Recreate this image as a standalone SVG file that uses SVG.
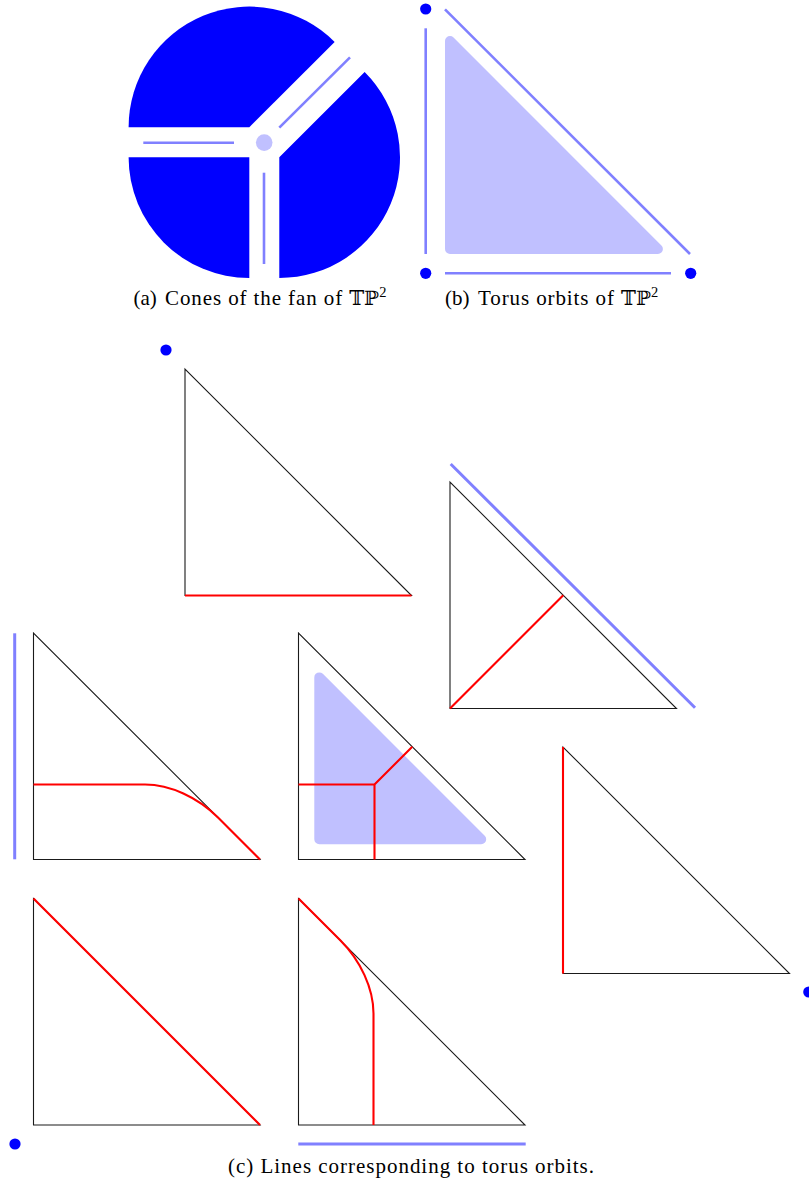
<svg xmlns="http://www.w3.org/2000/svg" width="809" height="1192" viewBox="0 0 809 1192">
<style>
.cone{fill:#0000ff;stroke:none}
.orb{stroke:#8080ff;stroke-width:2.6;fill:none;stroke-linecap:butt}
.orbc{stroke:#8080ff;stroke-width:3;fill:none}
.pt{fill:#0000ff}
.face{fill:#c0c0ff;stroke:#c0c0ff;stroke-linejoin:round;stroke-width:10}
.tri{fill:none;stroke:#1a1a1a;stroke-width:1.1;stroke-linejoin:miter}
.red{fill:none;stroke:#ff0000;stroke-width:2.1;stroke-linejoin:round}
.cap{font-family:"Liberation Serif","DejaVu Serif",serif;font-size:21px;fill:#000}
.sp{letter-spacing:0.9px}
.ds{font-family:"DejaVu Serif","DejaVu Sans",serif;font-size:20px}
.sup{font-size:14.5px}
</style>
<rect width="809" height="1192" fill="#ffffff"/>

<g id="fan">
  <path class="cone" d="M249.3,127.3 L128.6,127.3 A120.7,120.7 0 0 1 334.65,41.95 Z"/>
  <path class="cone" d="M249.3,157.3 L249.3,278 A120.7,120.7 0 0 1 128.6,157.3 Z"/>
  <path class="cone" d="M279.3,157.3 L364.65,71.95 A120.7,120.7 0 0 1 279.3,278 Z"/>
  <line class="orb" x1="143.3" y1="142.7" x2="234" y2="142.7"/>
  <line class="orb" x1="264" y1="172.7" x2="264" y2="264"/>
  <line class="orb" x1="279.3" y1="127.7" x2="350" y2="57.3"/>
  <circle cx="264.2" cy="142.6" r="8.3" fill="#c0c0ff"/>
</g>

<g id="orbits">
  <polygon class="face" points="450,41.1 450,249 657.9,249"/>
  <line class="orb" x1="425.7" y1="28.3" x2="425.7" y2="254"/>
  <line class="orb" x1="445" y1="273.3" x2="671" y2="273.3"/>
  <line class="orb" x1="445" y1="9.3" x2="690" y2="254"/>
  <circle class="pt" cx="425.7" cy="9" r="5.6"/>
  <circle class="pt" cx="425.7" cy="273.3" r="5.6"/>
  <circle class="pt" cx="690.7" cy="273.3" r="5.6"/>
</g>

<g id="captions-ab">
  <text class="cap" x="133.5" y="305">(a)<tspan class="sp" x="165">Cones of the fan of </tspan><tspan class="ds">𝕋ℙ</tspan><tspan class="sup" dy="-8">2</tspan></text>
  <text class="cap" x="445" y="305">(b)<tspan class="sp" x="478">Torus orbits of </tspan><tspan class="ds">𝕋ℙ</tspan><tspan class="sup" dy="-8">2</tspan></text>
</g>

<g id="t1">
  <circle class="pt" cx="166" cy="350" r="5.6"/>
  <polygon class="tri" points="185,369 185,595.5 411.5,595.5"/>
  <line class="red" x1="185" y1="595.5" x2="411.5" y2="595.5"/>
</g>

<g id="t2">
  <line class="orbc" x1="450.7" y1="464" x2="695" y2="707.7"/>
  <polygon class="tri" points="450,482 450,708.5 676.5,708.5"/>
  <line class="red" x1="450" y1="708.5" x2="563.25" y2="595.25"/>
</g>

<g id="t3">
  <line class="orbc" x1="14.7" y1="633.3" x2="14.7" y2="859.3"/>
  <polygon class="tri" points="33.5,633 33.5,859.5 260,859.5"/>
  <path class="red" d="M33.5,784.5 L145,784.5 C170,784.5 198,797.5 218,817.5 L260,859.5"/>
</g>

<g id="t4">
  <polygon class="face" points="319.3,677.4 319.3,839.3 481.2,839.3"/>
  <polygon class="tri" points="298.5,633 298.5,859.5 525,859.5"/>
  <path class="red" d="M298.5,784.5 L374.5,784.5 L374.5,859.5 M374.5,784.5 L412.25,746.75"/>
</g>

<g id="t5">
  <polygon class="tri" points="563,747 563,973.5 789.5,973.5"/>
  <line class="red" x1="563" y1="747" x2="563" y2="973.5"/>
  <circle class="pt" cx="808.8" cy="992" r="5.6"/>
</g>

<g id="t6">
  <polygon class="tri" points="33.5,898.5 33.5,1125 260,1125"/>
  <line class="red" x1="33.5" y1="898.5" x2="260" y2="1125"/>
  <circle class="pt" cx="15" cy="1144" r="5.6"/>
</g>

<g id="t7">
  <polygon class="tri" points="298.5,898.5 298.5,1125 525,1125"/>
  <path class="red" d="M373.5,1125 L373.5,1013.5 C373.5,988.5 360.5,960.5 340.5,940.5 L298.5,898.5"/>
  <line class="orbc" x1="298.3" y1="1144" x2="525.7" y2="1144"/>
</g>

<g id="caption-c">
  <text class="cap" x="228" y="1173" textLength="366" lengthAdjust="spacing">(c) Lines corresponding to torus orbits.</text>
</g>
</svg>
